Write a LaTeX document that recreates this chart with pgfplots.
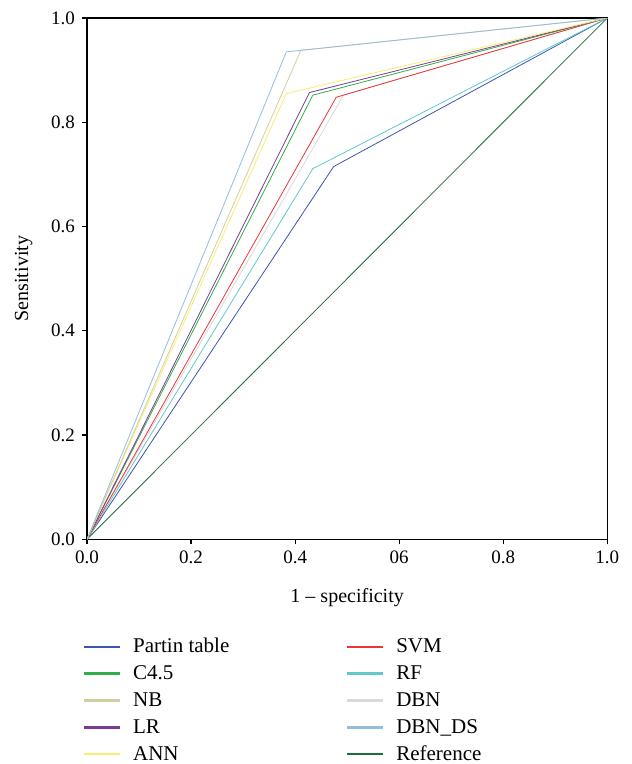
\documentclass[border=0pt]{standalone}
\usepackage{pgfplots}
\pgfplotsset{compat=1.18}
\usepackage{fontspec}
\setmainfont{Liberation Serif}
\definecolor{cpartin}{HTML}{3D54B2}
\definecolor{cc45}{HTML}{2EAF4A}
\definecolor{cnb}{HTML}{D5CDA0}
\definecolor{clr}{HTML}{7D3A95}
\definecolor{cann}{HTML}{F7EE6E}
\definecolor{csvm}{HTML}{EE3535}
\definecolor{crf}{HTML}{62C9CB}
\definecolor{cdbn}{HTML}{D9D9D9}
\definecolor{cdbnds}{HTML}{93BCE3}
\definecolor{cref}{HTML}{1E6B3C}
\begin{document}
\begin{tikzpicture}
\begin{axis}[
  name=ax,
  scale only axis,
  width=260pt, height=260.5pt,
  xmin=0, xmax=1, ymin=0, ymax=1,
  xtick={0,0.2,0.4,0.6,0.8,1.0},
  xticklabels={0.0,0.2,0.4,06,0.8,1.0},
  ytick={0,0.2,0.4,0.6,0.8,1.0},
  yticklabels={0.0,0.2,0.4,0.6,0.8,1.0},
  tick align=outside,
  tick pos=left,
  major tick length=2.5pt,
  axis line style={line width=0.6pt},
  every tick/.style={line width=0.6pt, black},
  tick label style={font=\fontsize{9.5}{11}\selectfont},
  label style={font=\fontsize{10}{12}\selectfont},
  /pgf/number format/assume math mode=true,
  xlabel={1 – specificity},
  xlabel style={yshift=-5pt},
  ylabel={Sensitivity},
  ylabel style={yshift=2.5pt},
  every plot/.append style={line width=0.7pt},
  legend image code/.code={\fill[#1] (0pt,-0.38pt) rectangle (17.5pt,0.38pt);},
  legend cell align=left,
  legend columns=2,
  legend style={draw=none, at={(-0.006,-0.4319)}, anchor=south west, inner sep=0pt,
    font=\fontsize{10.5}{12}\selectfont,
    nodes={inner ysep=0.5pt, text height=7.5pt, text depth=1.5pt},
    /tikz/every odd column/.append style={column sep=4.5pt},
    /tikz/every even column/.append style={column sep=57pt},
    row sep=3.4pt},
]
\addlegendimage{cpartin}\addlegendentry{Partin table}
\addlegendimage{csvm}\addlegendentry{SVM}
\addlegendimage{cc45}\addlegendentry{C4.5}
\addlegendimage{crf}\addlegendentry{RF}
\addlegendimage{cnb}\addlegendentry{NB}
\addlegendimage{cdbn}\addlegendentry{DBN}
\addlegendimage{clr}\addlegendentry{LR}
\addlegendimage{cdbnds}\addlegendentry{DBN\_DS}
\addlegendimage{cann}\addlegendentry{ANN}
\addlegendimage{cref}\addlegendentry{Reference}
\addplot[cref, forget plot] coordinates {(0,0) (1,1)};
\addplot[cpartin, forget plot] coordinates {(0,0) (0.474,0.715) (1,1)};
\addplot[crf, forget plot] coordinates {(0,0) (0.434,0.711) (1,1)};
\addplot[cdbn, forget plot] coordinates {(0,0) (0.493,0.852) (1,1)};
\addplot[csvm, forget plot] coordinates {(0,0) (0.479,0.848) (1,1)};
\addplot[cc45, forget plot] coordinates {(0,0) (0.434,0.852) (1,1)};
\addplot[clr, forget plot] coordinates {(0,0) (0.4275,0.857) (1,1)};
\addplot[cann, forget plot] coordinates {(0,0) (0.383,0.855) (1,1)};
\addplot[cnb, forget plot] coordinates {(0,0) (0.411,0.938) (1,1)};
\addplot[cdbnds, forget plot] coordinates {(0,0) (0.383,0.935) (1,1)};
\end{axis}
\path (ax.south west) ++(-43.5pt,0pt) (ax.north east) ++(12pt,9pt);
\end{tikzpicture}
\end{document}
